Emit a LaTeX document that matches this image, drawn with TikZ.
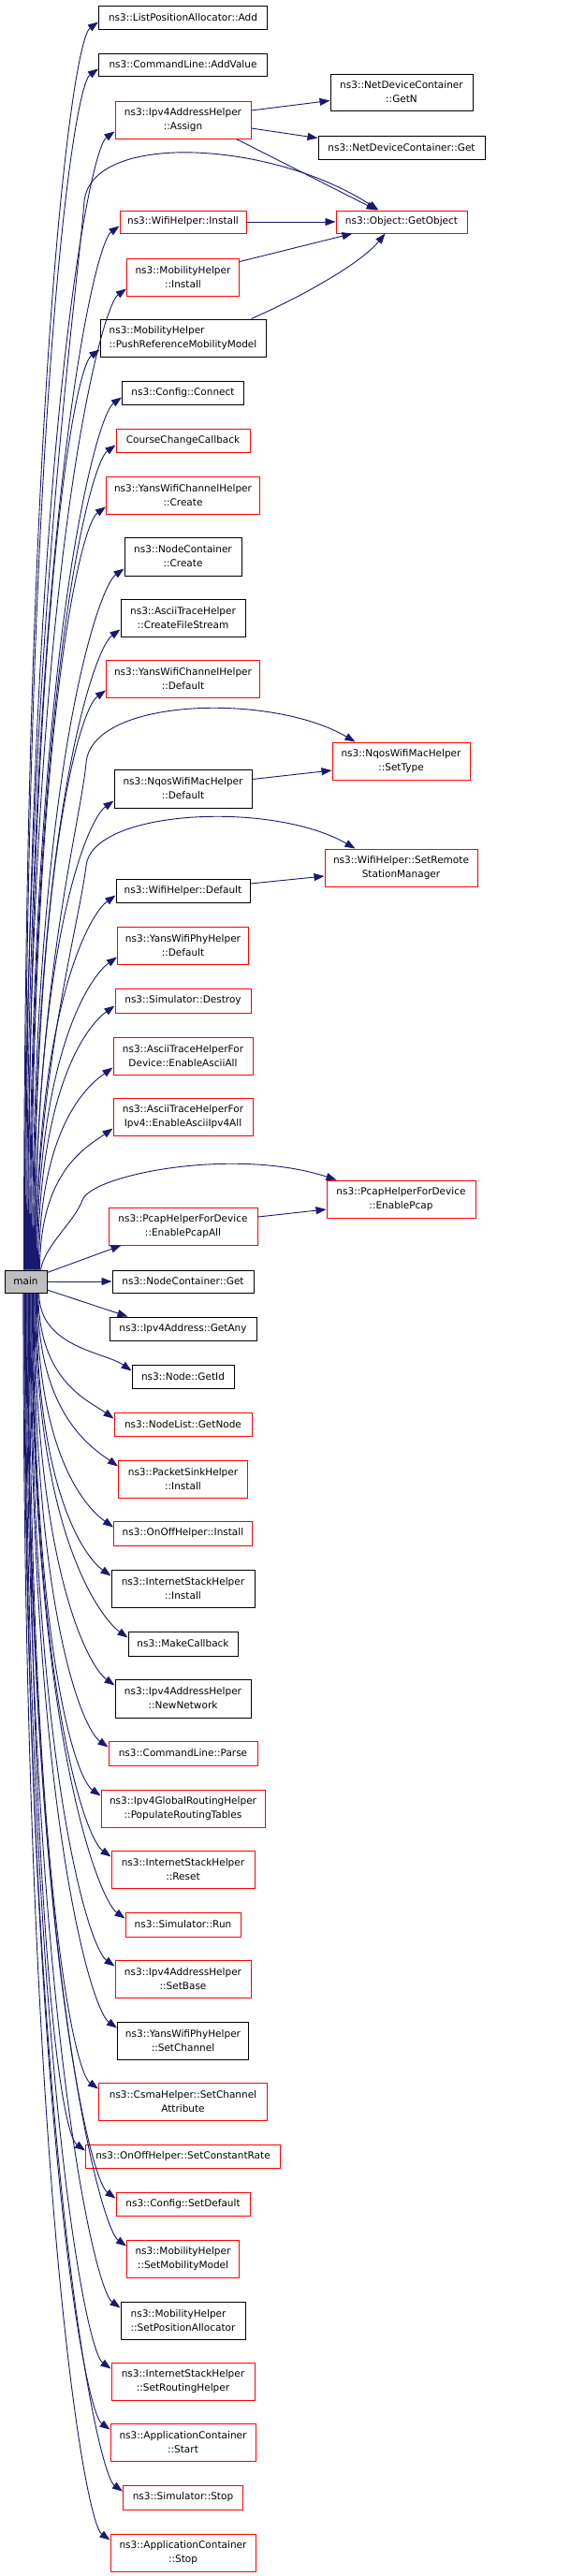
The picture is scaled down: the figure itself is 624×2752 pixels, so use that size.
\documentclass[tikz,border=0pt]{standalone}
\usepackage{fontspec}
\setmainfont{DejaVu Sans}
\usetikzlibrary{calc}
\usetikzlibrary{arrows.meta}
\definecolor{callblue}{RGB}{25,25,112}
\definecolor{hidered}{RGB}{255,0,0}
\definecolor{maingrey}{RGB}{191,191,191}

\begin{document}
\begin{tikzpicture}[x=1pt, y=-1pt,
  fn/.style={draw=black, line width=1pt, inner sep=0pt, align=center, font=\fontsize{10.5}{15}\selectfont},
  fnred/.style={fn, draw=hidered},
  call/.style={callblue, line width=.9pt, -{Triangle[length=11pt,width=8pt]}}]
\path[use as bounding box, fill=white] (0,0) rectangle (624,2752);

\node[fn, fill=maingrey, minimum width=45pt, minimum height=24pt] (main) at (27.5,1369) {main};

\node[fn, minimum width=180pt, minimum height=25pt] (add) at (195.5,18.5) {ns3::ListPositionAllocator::Add};
\node[fn, minimum width=180pt, minimum height=24pt] (addvalue) at (195.5,69) {ns3::CommandLine::AddValue};
\node[fnred, minimum width=145pt, minimum height=40pt] (assign) at (195.5,128) {ns3::Ipv4AddressHelper\\::Assign};
\node[fn, minimum width=152pt, minimum height=39pt] (getn) at (429,98.5) {ns3::NetDeviceContainer\\::GetN};
\node[fn, minimum width=178pt, minimum height=25pt] (ndcget) at (429,157.5) {ns3::NetDeviceContainer::Get};
\node[fnred, minimum width=135pt, minimum height=24pt] (wifiinst) at (195.5,237) {ns3::WifiHelper::Install};
\node[fnred, minimum width=140pt, minimum height=24pt] (getobject) at (429,237) {ns3::Object::GetObject};
\node[fnred, minimum width=120pt, minimum height=40pt] (mobinst) at (195.5,296) {ns3::MobilityHelper\\::Install};
\node[fn, align=left, minimum width=177pt, minimum height=40pt] (pushref) at (195.5,361) {ns3::MobilityHelper\\::PushReferenceMobilityModel};
\node[fn, minimum width=130pt, minimum height=25pt] (connect) at (195.5,419.5) {ns3::Config::Connect};
\node[fnred, minimum width=143pt, minimum height=25pt] (course) at (195.5,470.5) {CourseChangeCallback};
\node[fnred, minimum width=164pt, minimum height=40pt] (ywccreate) at (195.5,529) {ns3::YansWifiChannelHelper\\::Create};
\node[fn, minimum width=125pt, minimum height=41pt] (nccreate) at (195.5,594.5) {ns3::NodeContainer\\::Create};
\node[fn, minimum width=133pt, minimum height=40pt] (cfs) at (195.5,660) {ns3::AsciiTraceHelper\\::CreateFileStream};
\node[fnred, minimum width=164pt, minimum height=40pt] (ywcdefault) at (195.5,725) {ns3::YansWifiChannelHelper\\::Default};
\node[fnred, minimum width=147pt, minimum height=40pt] (settype) at (428.5,813) {ns3::NqosWifiMacHelper\\::SetType};
\node[fn, minimum width=147pt, minimum height=41pt] (nqosdefault) at (195.5,842.5) {ns3::NqosWifiMacHelper\\::Default};
\node[fnred, minimum width=163pt, minimum height=40pt] (remote) at (428.5,927) {ns3::WifiHelper::SetRemote\\StationManager};
\node[fn, minimum width=143pt, minimum height=25pt] (wifidefault) at (195.5,951.5) {ns3::WifiHelper::Default};
\node[fnred, minimum width=140pt, minimum height=40pt] (ywpdefault) at (195.5,1010) {ns3::YansWifiPhyHelper\\::Default};
\node[fnred, minimum width=145pt, minimum height=26pt] (destroy) at (195.5,1069) {ns3::Simulator::Destroy};
\node[fnred, minimum width=149pt, minimum height=40pt] (asciiall) at (195.5,1128) {ns3::AsciiTraceHelperFor\\Device::EnableAsciiAll};
\node[fnred, minimum width=149pt, minimum height=40pt] (asciiipv4) at (195.5,1193) {ns3::AsciiTraceHelperFor\\Ipv4::EnableAsciiIpv4All};
\node[fnred, minimum width=159pt, minimum height=40pt] (pcap) at (428.5,1281) {ns3::PcapHelperForDevice\\::EnablePcap};
\node[fnred, minimum width=159pt, minimum height=40pt] (pcapall) at (195.5,1310) {ns3::PcapHelperForDevice\\::EnablePcapAll};
\node[fn, minimum width=151pt, minimum height=24pt] (ncget) at (195.5,1369) {ns3::NodeContainer::Get};
\node[fn, minimum width=157pt, minimum height=25pt] (getany) at (195.5,1419.5) {ns3::Ipv4Address::GetAny};
\node[fn, minimum width=109pt, minimum height=25pt] (getid) at (195.5,1470.5) {ns3::Node::GetId};
\node[fnred, minimum width=147pt, minimum height=25pt] (getnode) at (195.5,1521.5) {ns3::NodeList::GetNode};
\node[fnred, minimum width=138pt, minimum height=40pt] (sinkinst) at (195.5,1580) {ns3::PacketSinkHelper\\::Install};
\node[fnred, minimum width=148pt, minimum height=26pt] (onoffinst) at (195.5,1638) {ns3::OnOffHelper::Install};
\node[fn, minimum width=153pt, minimum height=40pt] (ishinst) at (195.5,1697) {ns3::InternetStackHelper\\::Install};
\node[fn, minimum width=117pt, minimum height=26pt] (makecb) at (195.5,1756) {ns3::MakeCallback};
\node[fn, minimum width=145pt, minimum height=41pt] (newnet) at (195.5,1814.5) {ns3::Ipv4AddressHelper\\::NewNetwork};
\node[fnred, minimum width=159pt, minimum height=26pt] (parse) at (195.5,1873) {ns3::CommandLine::Parse};
\node[fnred, minimum width=175pt, minimum height=40pt] (populate) at (195.5,1932) {ns3::Ipv4GlobalRoutingHelper\\::PopulateRoutingTables};
\node[fnred, minimum width=153pt, minimum height=40pt] (reset) at (195.5,1997) {ns3::InternetStackHelper\\::Reset};
\node[fnred, minimum width=123pt, minimum height=26pt] (run) at (195.5,2056) {ns3::Simulator::Run};
\node[fnred, minimum width=145pt, minimum height=40pt] (setbase) at (195.5,2114) {ns3::Ipv4AddressHelper\\::SetBase};
\node[fn, minimum width=140pt, minimum height=40pt] (setchannel) at (195.5,2180) {ns3::YansWifiPhyHelper\\::SetChannel};
\node[fnred, minimum width=180pt, minimum height=40pt] (csma) at (195.5,2245) {ns3::CsmaHelper::SetChannel\\Attribute};
\node[fnred, minimum width=208pt, minimum height=25pt] (constrate) at (195.5,2303.5) {ns3::OnOffHelper::SetConstantRate};
\node[fnred, minimum width=143pt, minimum height=25pt] (setdefault) at (195.5,2354.5) {ns3::Config::SetDefault};
\node[fnred, minimum width=120pt, minimum height=40pt] (setmob) at (195.5,2413) {ns3::MobilityHelper\\::SetMobilityModel};
\node[fn, align=left, minimum width=133pt, minimum height=40pt] (setpos) at (195.5,2479) {ns3::MobilityHelper\\::SetPositionAllocator};
\node[fnred, minimum width=153pt, minimum height=40pt] (setrouting) at (195.5,2544) {ns3::InternetStackHelper\\::SetRoutingHelper};
\node[fnred, minimum width=155pt, minimum height=40pt] (appstart) at (195.5,2609) {ns3::ApplicationContainer\\::Start};
\node[fnred, minimum width=128pt, minimum height=26pt] (simstop) at (195.5,2668) {ns3::Simulator::Stop};
\node[fnred, minimum width=155pt, minimum height=40pt] (appstop) at (195.5,2727) {ns3::ApplicationContainer\\::Stop};

\foreach \tg [count=\i] in {add,addvalue,assign,wifiinst,mobinst,pushref,connect,course,ywccreate,nccreate,cfs,ywcdefault,nqosdefault,wifidefault,ywpdefault,destroy,asciiall,asciiipv4} {
  \coordinate (s) at ([xshift=20+\i]main.north west);
  \coordinate (e) at ([yshift=8pt]\tg.south west);
  \draw[call] (s) .. controls ($(s)!.7!(s |- e)$) and ($(e)+(-28,20)$) .. (e);
}
\foreach \tg [count=\i] in {getid,getnode,sinkinst,onoffinst,ishinst,makecb,newnet,parse,populate,reset,run,setbase,setchannel,csma,constrate,setdefault,setmob,setpos,setrouting,appstart,simstop,appstop} {
  \coordinate (s) at ([xshift=38-0.8*\i]main.south west);
  \coordinate (e) at ([yshift=-7pt]\tg.north west);
  \draw[call] (s) .. controls ($(s)!.7!(s |- e)$) and ($(e)+(-28,-20)$) .. (e);
}

\draw[call] ([xshift=21.5]main.north west) .. controls (26.5,700) and (82,320) .. (90,215)
  .. controls (98,140) and (290,150) .. ([xshift=46pt]getobject.north west);
\draw[call] ([xshift=32.5]main.north west) .. controls (37.5,1050) and (86,880) .. (92,815)
  .. controls (98,745) and (290,740) .. ([xshift=25pt]settype.north west);
\draw[call] ([xshift=33.5]main.north west) .. controls (38.5,1150) and (85,985) .. (92,925)
  .. controls (98,865) and (290,855) .. ([xshift=33pt]remote.north west);
\draw[call] ([xshift=39]main.north west) .. controls (48,1330) and (80,1305) .. (88,1282)
  .. controls (98,1255) and (250,1225) .. ([xshift=11pt]pcap.north west);

\draw[call] ([yshift=-3pt]main.north east) -- ([xshift=14pt]pcapall.south west);
\draw[call] (main.east) -- (ncget.west);
\draw[call] ([yshift=-9pt]main.east) -- ([xshift=20pt]getany.north west);

\draw[call] ([yshift=10pt]assign.east) -- ([yshift=-9pt]getn.west);
\draw[call] ([yshift=-9pt]assign.east) -- ([yshift=10pt]ndcget.west);
\draw[call] ([xshift=-16pt]assign.south east) -- ([xshift=44pt]getobject.north west);
\draw[call] (wifiinst.east) -- (getobject.west);
\draw[call] ([yshift=-4pt]mobinst.north east) -- ([xshift=18pt]getobject.south west);
\draw[call] ([xshift=-16pt]pushref.north east) .. controls (320,318) and (385,282) .. ([xshift=53pt]getobject.south west);
\draw[call] ([yshift=10pt]nqosdefault.east) -- ([yshift=-10pt]settype.west);
\draw[call] ([yshift=7.5pt]wifidefault.east) -- ([yshift=-9pt]remote.west);
\draw[call] ([yshift=10pt]pcapall.east) -- ([yshift=-11pt]pcap.west);
\end{tikzpicture}
\end{document}
